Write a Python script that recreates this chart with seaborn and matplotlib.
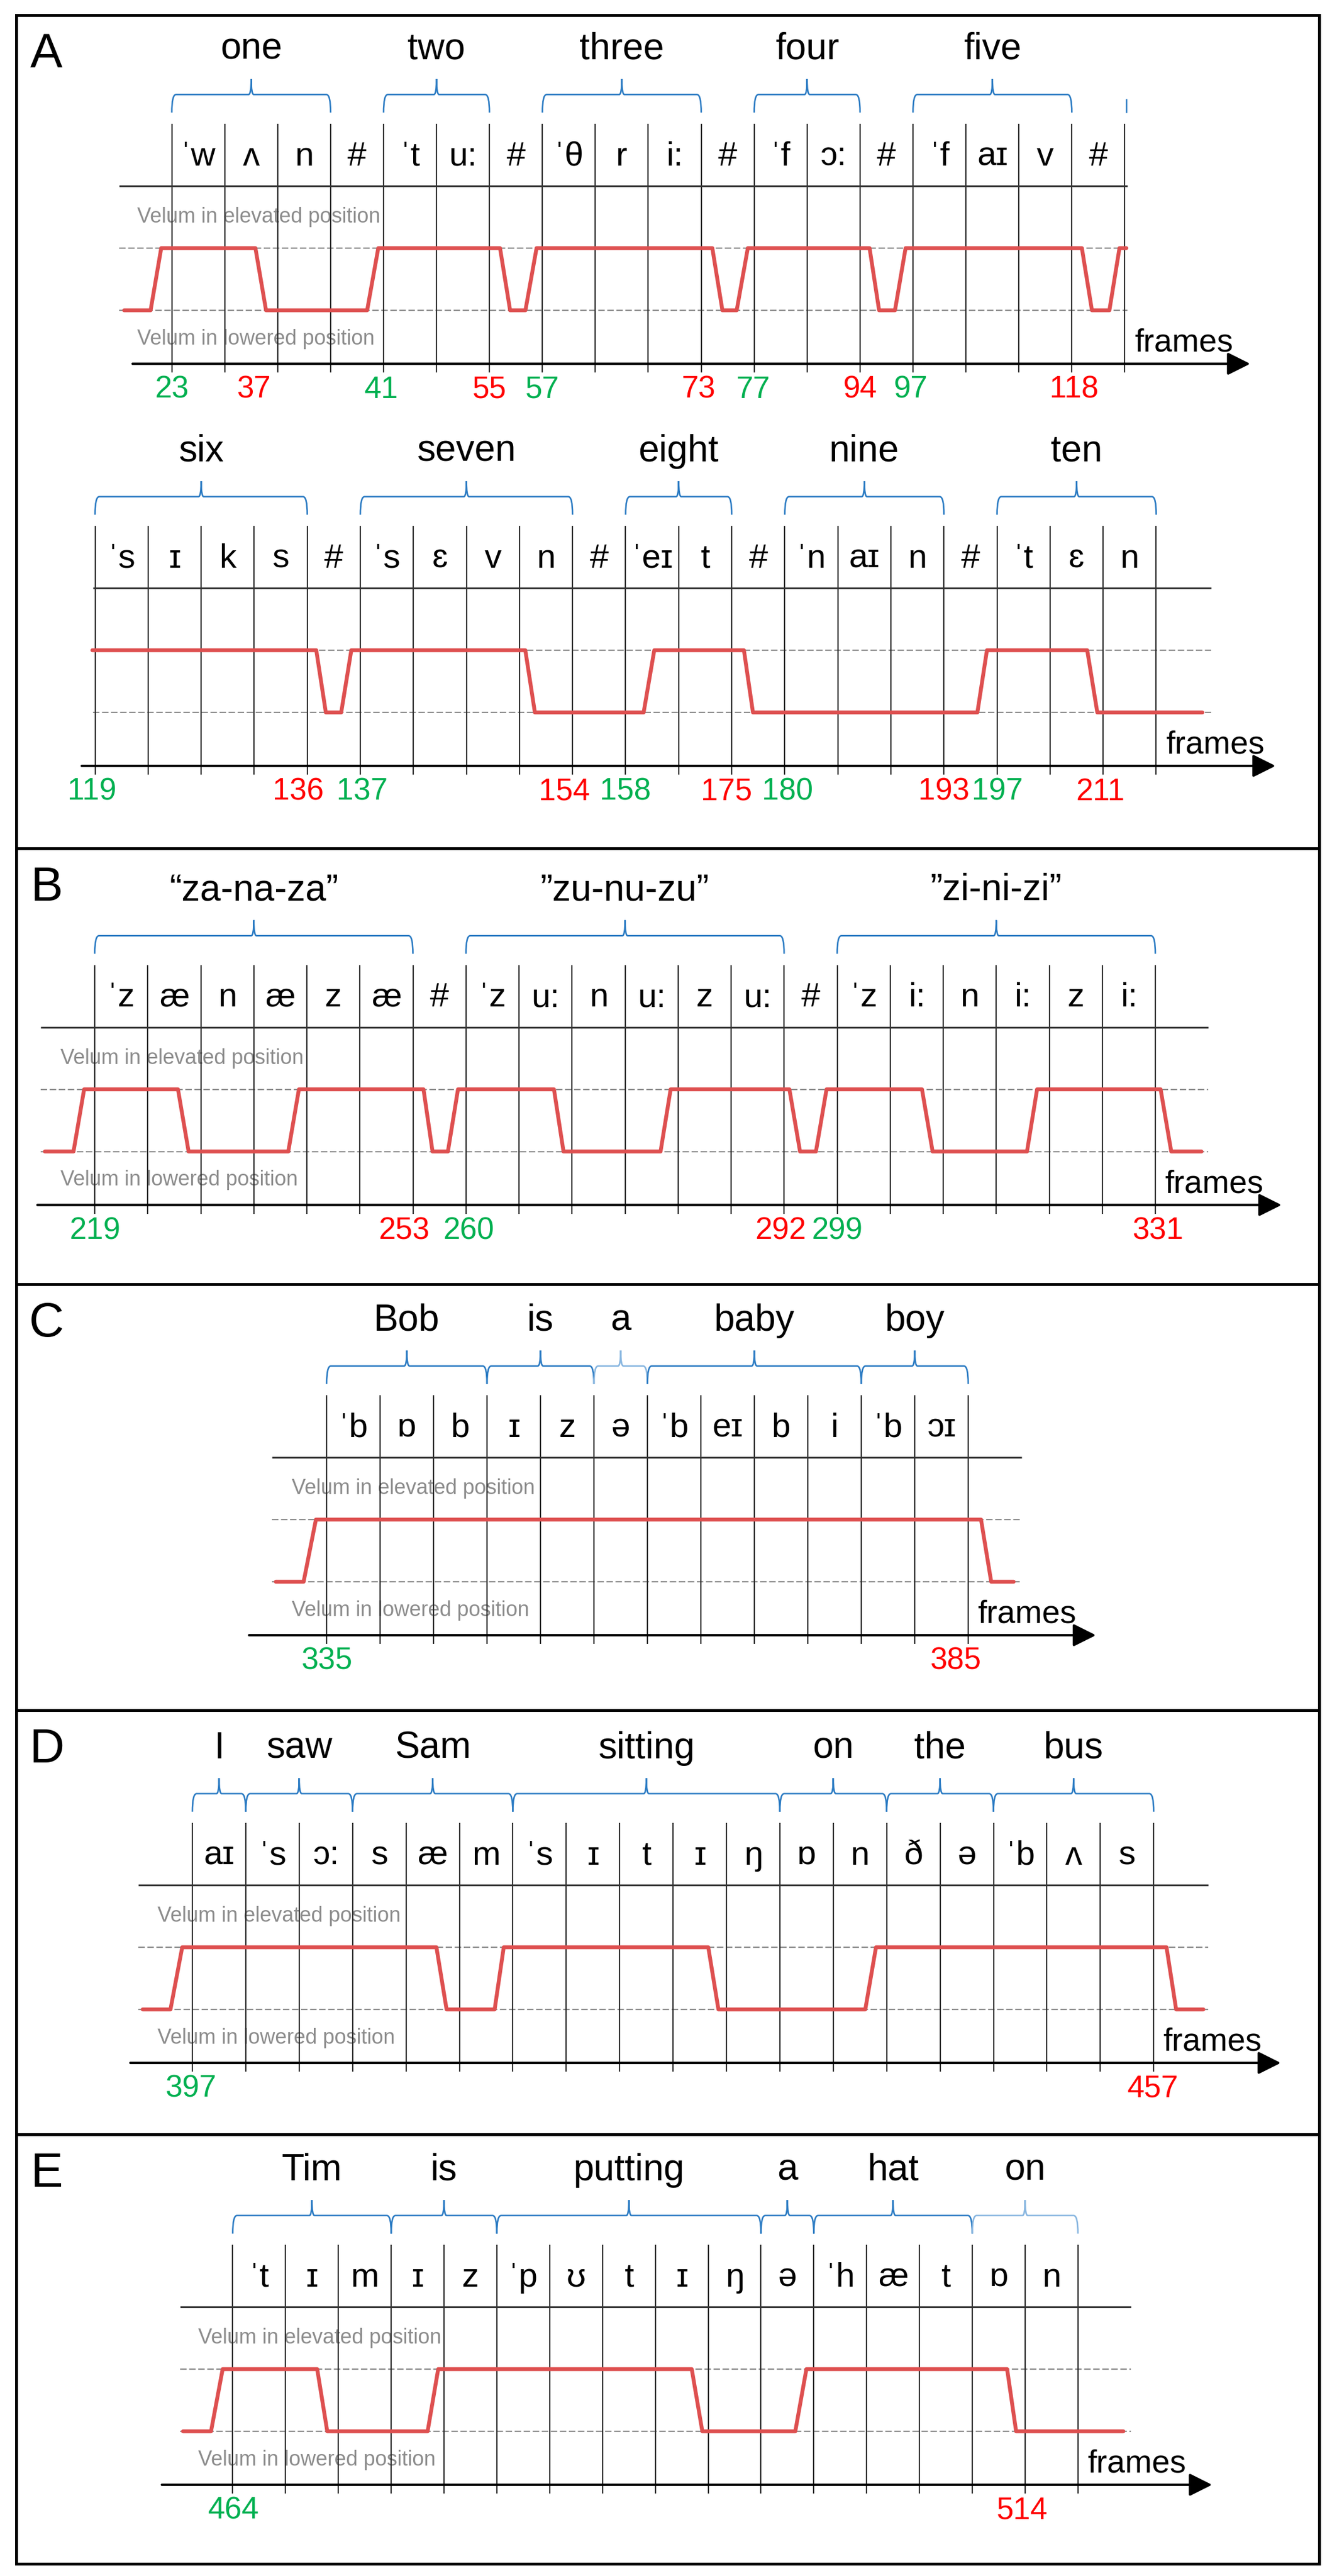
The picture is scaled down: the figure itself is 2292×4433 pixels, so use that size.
import numpy as np
import matplotlib
matplotlib.use("Agg")
import matplotlib.pyplot as plt
import seaborn as sns
from matplotlib.path import Path
from matplotlib.patches import PathPatch

# ------------------------------------------------------------------ data
# Panel A, row 1
a1_phones = ["ˈw", "ʌ", "n", "#", "ˈt", "u:", "#", "ˈθ", "r", "i:", "#",
             "ˈf", "ɔ:", "#", "ˈf", "aɪ", "v", "#"]
a1_words = ["one", "two", "three", "four", "five"]
a1_spans = [(0, 3), (4, 6), (7, 10), (11, 13), (14, 17)]
a1_light = [False, False, False, False, False]
a1_trace_x = [-0.9, -0.4, -0.2, 1.58, 1.78, 3.69, 3.9, 6.2, 6.39, 6.68, 6.89,
              10.21, 10.4, 10.67, 10.88, 13.18, 13.36, 13.66, 13.86, 17.19,
              17.38, 17.71, 17.9, 18.03]
a1_trace_y = [0, 0, 1, 1, 0, 0, 1, 1, 0, 0, 1, 1, 0, 0, 1, 1, 0, 0, 1, 1, 0, 0, 1, 1]
a1_on_frames = [23, 41, 57, 77, 97]
a1_on_pos = [0.0, 3.96, 7.0, 10.98, 13.95]
a1_off_frames = [37, 55, 73, 94, 118]
a1_off_pos = [1.54, 6.0, 9.95, 13.0, 17.04]

# Panel A, row 2
a2_phones = ["ˈs", "ɪ", "k", "s", "#", "ˈs", "ɛ", "v", "n", "#", "ˈeɪ", "t", "#",
             "ˈn", "aɪ", "n", "#", "ˈt", "ɛ", "n"]
a2_words = ["six", "seven", "eight", "nine", "ten"]
a2_spans = [(0, 4), (5, 9), (10, 12), (13, 16), (17, 20)]
a2_light = [False, False, False, False, False]
a2_trace_x = [-0.05, 4.17, 4.35, 4.64, 4.83, 8.11, 8.29, 10.34, 10.54, 12.23,
              12.4, 16.63, 16.81, 18.7, 18.89, 20.87]
a2_trace_y = [1, 1, 0, 0, 1, 1, 0, 0, 1, 1, 0, 0, 1, 1, 0, 0]
a2_on_frames = [119, 137, 158, 180, 197]
a2_on_pos = [-0.06, 5.03, 10.0, 13.05, 17.0]
a2_off_frames = [136, 154, 175, 193, 211]
a2_off_pos = [3.83, 8.85, 11.9, 16.0, 18.95]

# Panel B
b_phones = ["ˈz", "æ", "n", "æ", "z", "æ", "#", "ˈz", "u:", "n", "u:", "z", "u:", "#",
            "ˈz", "i:", "n", "i:", "z", "i:"]
b_words = ["\u201cza-na-za\u201d", "\u201dzu-nu-zu\u201d", "\u201dzi-ni-zi\u201d"]
b_spans = [(0, 6), (7, 13), (14, 20)]
b_light = [False, False, False]
b_trace_x = [-0.94, -0.4, -0.2, 1.57, 1.77, 3.65, 3.85, 6.2, 6.37, 6.66, 6.85,
             8.66, 8.84, 10.67, 10.86, 13.1, 13.3, 13.6, 13.8, 15.6, 15.8, 17.58,
             17.77, 20.1, 20.3, 20.87]
b_trace_y = [0, 0, 1, 1, 0, 0, 1, 1, 0, 0, 1, 1, 0, 0, 1, 1, 0, 0, 1, 1, 0, 0, 1, 1, 0, 0]
b_on_frames = [219, 260, 299]
b_on_pos = [0.0, 7.05, 14.0]
b_off_frames = [253, 292, 331]
b_off_pos = [5.83, 12.93, 20.05]

# Panel C
c_phones = ["ˈb", "ɒ", "b", "ɪ", "z", "ə", "ˈb", "eɪ", "b", "i", "ˈb", "ɔɪ"]
c_words = ["Bob", "is", "a", "baby", "boy"]
c_spans = [(0, 3), (3, 5), (5, 6), (6, 10), (10, 12)]
c_light = [False, False, True, False, False]
c_trace_x = [-0.95, -0.43, -0.2, 12.24, 12.43, 12.85]
c_trace_y = [0, 0, 1, 1, 0, 0]
c_on_frames = [335]
c_on_pos = [0.0]
c_off_frames = [385]
c_off_pos = [11.76]

# Panel D
d_phones = ["aɪ", "ˈs", "ɔ:", "s", "æ", "m", "ˈs", "ɪ", "t", "ɪ", "ŋ", "ɒ", "n",
            "ð", "ə", "ˈb", "ʌ", "s"]
d_words = ["I", "saw", "Sam", "sitting", "on", "the", "bus"]
d_spans = [(0, 1), (1, 3), (3, 6), (6, 11), (11, 13), (13, 15), (15, 18)]
d_light = [False, False, False, False, False, False, False]
d_trace_x = [-0.93, -0.41, -0.19, 4.57, 4.76, 5.66, 5.83, 9.66, 9.85, 12.6, 12.8,
             18.24, 18.42, 18.93]
d_trace_y = [0, 0, 1, 1, 0, 0, 1, 1, 0, 0, 1, 1, 0, 0]
d_on_frames = [397]
d_on_pos = [-0.03]
d_off_frames = [457]
d_off_pos = [17.99]

# Panel E
e_phones = ["ˈt", "ɪ", "m", "ɪ", "z", "ˈp", "ʊ", "t", "ɪ", "ŋ", "ə", "ˈh", "æ", "t",
            "ɒ", "n"]
e_words = ["Tim", "is", "putting", "a", "hat", "on"]
e_spans = [(0, 3), (3, 5), (5, 10), (10, 11), (11, 14), (14, 16)]
e_light = [False, False, False, False, False, True]
e_trace_x = [-0.94, -0.41, -0.19, 1.6, 1.79, 3.69, 3.89, 8.69, 8.89, 10.65,
             10.86, 14.66, 14.83, 16.86]
e_trace_y = [0, 0, 1, 1, 0, 0, 1, 1, 0, 0, 1, 1, 0, 0]
e_on_frames = [464]
e_on_pos = [0.02]
e_off_frames = [514]
e_off_pos = [14.95]

panel_letters = ["A", "B", "C", "D", "E"]
elev_label = "Velum in elevated position"
low_label = "Velum in lowered position"
axis_label = "frames"

# ------------------------------------------------------------------ style
sns.set_theme(style="white")
FONT = ["Liberation Sans Narrow", "Liberation Sans", "DejaVu Sans"]
plt.rcParams["font.family"] = FONT

W, H = 2292, 4433
DPI = 100
UNIT = 107.0  # px between lowered and elevated velum lines

TRACE = "#DE5050"
GREEN = "#00B050"
REDN = "#FF0000"
BLUE = "#2B7BC3"
LBLUE = "#88B6E0"
GRID = "#2a2a2a"
DASH = "#8a8a8a"
LABG = "#8c8c8c"

# layout (pixels)
panel_boxes = [(28, 26, 2270, 1460), (28, 1460, 2270, 2210), (28, 2210, 2270, 2943),
               (28, 2943, 2270, 3673), (28, 3673, 2270, 4412)]

rows = [
    dict(ph=a1_phones, w=a1_words, sp=a1_spans, li=a1_light, tx=a1_trace_x, ty=a1_trace_y,
         onf=a1_on_frames, onp=a1_on_pos, offf=a1_off_frames, offp=a1_off_pos,
         box=(28, 26, 2270, 740), x0=295.6, cw=91.1, ylow=534,
         line=(-1.0, 18.05), axis=(-0.74, 20.37), labels=True, stub=18.03),
    dict(ph=a2_phones, w=a2_words, sp=a2_spans, li=a2_light, tx=a2_trace_x, ty=a2_trace_y,
         onf=a2_on_frames, onp=a2_on_pos, offf=a2_off_frames, offp=a2_off_pos,
         box=(28, 740, 2270, 1460), x0=163.5, cw=91.3, ylow=1226,
         line=(-0.04, 21.03), axis=(-0.25, 22.25), labels=False, stub=None),
    dict(ph=b_phones, w=b_words, sp=b_spans, li=b_light, tx=b_trace_x, ty=b_trace_y,
         onf=b_on_frames, onp=b_on_pos, offf=b_off_frames, offp=b_off_pos,
         box=(28, 1460, 2270, 2210), x0=163.0, cw=91.25, ylow=1981.6,
         line=(-1.02, 21.0), axis=(-1.08, 22.38), labels=True, stub=None),
    dict(ph=c_phones, w=c_words, sp=c_spans, li=c_light, tx=c_trace_x, ty=c_trace_y,
         onf=c_on_frames, onp=c_on_pos, offf=c_off_frames, offp=c_off_pos,
         box=(28, 2210, 2270, 2943), x0=562.0, cw=92.0, ylow=2722,
         line=(-1.02, 13.0), axis=(-1.45, 14.39), labels=True, stub=None),
    dict(ph=d_phones, w=d_words, sp=d_spans, li=d_light, tx=d_trace_x, ty=d_trace_y,
         onf=d_on_frames, onp=d_on_pos, offf=d_off_frames, offp=d_off_pos,
         box=(28, 2943, 2270, 3673), x0=331.0, cw=91.9, ylow=3458,
         line=(-1.01, 19.02), axis=(-1.16, 20.38), labels=True, stub=None),
    dict(ph=e_phones, w=e_words, sp=e_spans, li=e_light, tx=e_trace_x, ty=e_trace_y,
         onf=e_on_frames, onp=e_on_pos, offf=e_off_frames, offp=e_off_pos,
         box=(28, 3673, 2270, 4412), x0=400.4, cw=90.9, ylow=4184,
         line=(-1.0, 17.0), axis=(-1.34, 18.54), labels=True, stub=None),
]

LV = dict(vt=3.0, vb=-1.0, top=2.0, ph=2.47, word=4.2, tip=3.18, hz=3.47, pk=3.72,
          elev=1.5, low=-0.46, axis=-0.86, num=-1.28, frames=-0.53)

fig = plt.figure(figsize=(W / DPI, H / DPI), dpi=DPI)
fig.patch.set_facecolor("white")


def fig_rect(l, t, r, b):
    return [l / W, 1 - b / H, (r - l) / W, (b - t) / H]


# panel frames
for (l, t, r, b), letter in zip(panel_boxes, panel_letters):
    pax = fig.add_axes(fig_rect(l, t, r, b), zorder=0)
    pax.set_xticks([])
    pax.set_yticks([])
    pax.set_facecolor("none")
    for s in pax.spines.values():
        s.set_visible(True)
        s.set_color("black")
        s.set_linewidth(3.6)
    pax.annotate(letter, xy=(0, 1), xycoords="axes fraction", xytext=(52, -68),
                 textcoords="offset pixels", ha="center", va="center",
                 fontsize=60, color="black")


def brace(ax, a, b, color):
    m = (a + b) / 2.0
    d = 0.08
    dm = 0.05
    verts = [(a, LV["tip"]), (a, LV["hz"]), (a + d, LV["hz"]),
             (m - dm, LV["hz"]), (m, LV["hz"]), (m, LV["pk"]),
             (m, LV["hz"]), (m + dm, LV["hz"]),
             (b - d, LV["hz"]), (b, LV["hz"]), (b, LV["tip"])]
    codes = [Path.MOVETO, Path.CURVE3, Path.CURVE3, Path.LINETO, Path.CURVE3, Path.CURVE3,
             Path.CURVE3, Path.CURVE3, Path.LINETO, Path.CURVE3, Path.CURVE3]
    ax.add_patch(PathPatch(Path(verts, codes), fill=False, edgecolor=color, lw=1.9,
                           clip_on=False, zorder=4))


for R in rows:
    l, t, r, b = R["box"]
    ax = fig.add_axes(fig_rect(l, t, r, b), zorder=2)
    ax.set_facecolor("none")
    ax.set_xlim((l - R["x0"]) / R["cw"], (r - R["x0"]) / R["cw"])
    ax.set_ylim((R["ylow"] - b) / UNIT, (R["ylow"] - t) / UNIT)
    ax.axis("off")
    n = len(R["ph"])

    # segment boundaries
    ax.vlines(np.arange(n + 1), LV["vb"], LV["vt"], colors=GRID, lw=1.6, zorder=3)
    # line under phonemes
    ax.hlines(LV["top"], R["line"][0], R["line"][1], colors="#333333", lw=2.2, zorder=3)
    # velum reference lines
    ax.hlines([0, 1], R["line"][0], R["line"][1], colors=DASH, lw=1.6,
              linestyles=(0, (5, 2)), zorder=2)
    if R["labels"]:
        ax.text(-0.65, LV["elev"], elev_label, ha="left", va="center", fontsize=26,
                color=LABG, zorder=1)
        ax.text(-0.65, LV["low"], low_label, ha="left", va="center", fontsize=26,
                color=LABG, zorder=1)

    # phonemes
    for i, p in enumerate(R["ph"]):
        ax.text(i + 0.5, LV["ph"], p, ha="center", va="center", fontsize=42,
                color="black", zorder=4)

    # word braces and labels
    for word, (s0, s1), lt in zip(R["w"], R["sp"], R["li"]):
        brace(ax, s0, s1, LBLUE if lt else BLUE)
        ax.text((s0 + s1) / 2.0, LV["word"], word, ha="center", va="center",
                fontsize=46, color="black", zorder=4)
    if R["stub"] is not None:
        ax.vlines(R["stub"], LV["tip"], LV["hz"] - 0.07, colors=BLUE, lw=1.8, zorder=4)

    # velum trace
    sns.lineplot(x=R["tx"], y=R["ty"], ax=ax, sort=False, estimator=None,
                 color=TRACE, lw=4.8, zorder=5)
    ax.axis("off")

    # frame axis
    ax.annotate("", xy=(R["axis"][1], LV["axis"]), xytext=(R["axis"][0], LV["axis"]),
                arrowprops=dict(arrowstyle="-|>,head_length=0.6,head_width=0.3",
                                mutation_scale=40, lw=3.0, color="black",
                                shrinkA=0, shrinkB=0),
                annotation_clip=False, zorder=4)
    ax.text(n + 0.18, LV["frames"], axis_label, ha="left", va="center", fontsize=40,
            color="black", zorder=4)

    # frame numbers
    for f, p in zip(R["onf"], R["onp"]):
        ax.text(p, LV["num"], str(f), ha="center", va="center", fontsize=38,
                color=GREEN, zorder=4)
    for f, p in zip(R["offf"], R["offp"]):
        ax.text(p, LV["num"], str(f), ha="center", va="center", fontsize=38,
                color=REDN, zorder=4)

fig.savefig("out.png", dpi=DPI, facecolor="white")
